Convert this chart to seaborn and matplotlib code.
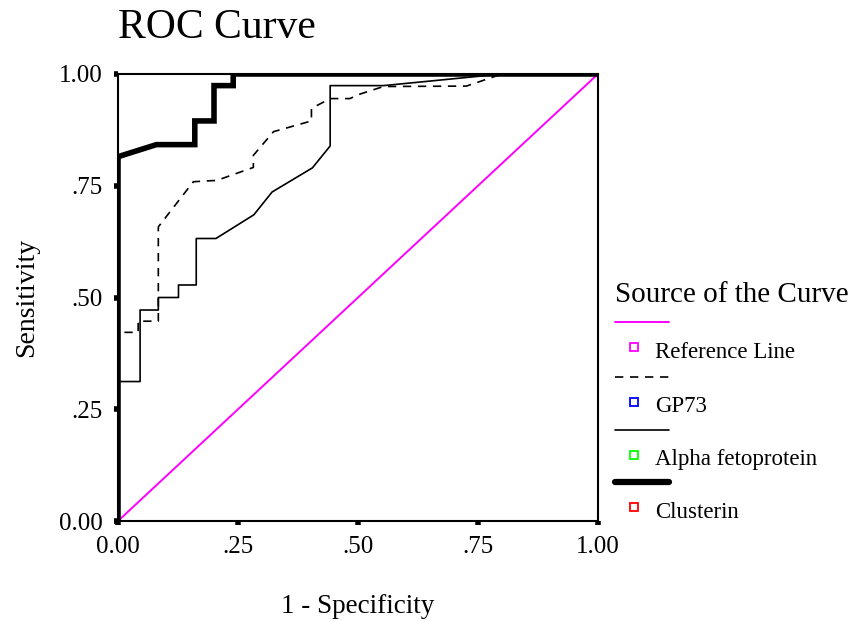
import matplotlib
matplotlib.use("Agg")
import matplotlib.pyplot as plt
import seaborn as sns
import pandas as pd
from matplotlib.lines import Line2D

# ---- data ----
clusterin_fpr = [0.0, 0.0, 0.08, 0.16, 0.16, 0.20, 0.20, 0.24, 0.24, 1.0]
clusterin_tpr = [0.0, 0.815, 0.842, 0.842, 0.895, 0.895, 0.974, 0.974, 1.0, 1.0]

afp_fpr = [0.0, 0.0, 0.046, 0.046, 0.084, 0.084, 0.126, 0.126, 0.163, 0.163, 0.204,
           0.283, 0.321, 0.405, 0.442, 0.442, 0.553, 0.80, 1.0]
afp_tpr = [0.0, 0.312, 0.312, 0.472, 0.472, 0.50, 0.50, 0.528, 0.528, 0.632, 0.632,
           0.685, 0.736, 0.790, 0.839, 0.974, 0.974, 1.0, 1.0]

gp73_fpr = [0.0, 0.0, 0.042, 0.042, 0.084, 0.084, 0.157, 0.206, 0.282, 0.282, 0.324,
            0.403, 0.403, 0.442, 0.483, 0.504, 0.553, 0.726, 0.80, 1.0]
gp73_tpr = [0.0, 0.422, 0.422, 0.447, 0.447, 0.658, 0.759, 0.762, 0.791, 0.818, 0.871,
            0.895, 0.923, 0.945, 0.945, 0.955, 0.972, 0.973, 1.0, 1.0]

ref_fpr = [0.0, 1.0]
ref_tpr = [0.0, 1.0]

legend_labels = ["Reference Line", "GP73", "Alpha fetoprotein", "Clusterin"]
legend_colors = ["#FF00FF", "#0000FF", "#00FF00", "#FF0000"]
tick_vals = [0.0, 0.25, 0.5, 0.75, 1.0]
tick_labels = ["0.00", ".25", ".50", ".75", "1.00"]

# ---- style ----
sns.set_style("white")
plt.rcParams["font.family"] = ["Liberation Serif", "DejaVu Serif"]
plt.rcParams["text.color"] = "black"
plt.rcParams["axes.labelcolor"] = "black"
plt.rcParams["xtick.color"] = "black"
plt.rcParams["ytick.color"] = "black"

fig = plt.figure(figsize=(8.54, 6.21), dpi=100)
W, H = 854, 621
ax = fig.add_axes([118 / W, 1 - 521 / H, 480 / W, 447 / H])

def df(x, y):
    return pd.DataFrame({"x": x, "y": y})

sns.lineplot(data=df(ref_fpr, ref_tpr), x="x", y="y", ax=ax, color="#FF00FF",
             lw=1.4, sort=False, estimator=None, zorder=2)
sns.lineplot(data=df(gp73_fpr, gp73_tpr), x="x", y="y", ax=ax, color="black",
             lw=1.2, sort=False, estimator=None, zorder=3, linestyle=(0, (5, 4)))
sns.lineplot(data=df(afp_fpr, afp_tpr), x="x", y="y", ax=ax, color="black",
             lw=1.2, sort=False, estimator=None, zorder=3)
sns.lineplot(data=df(clusterin_fpr, clusterin_tpr), x="x", y="y", ax=ax, color="black",
             lw=4, sort=False, estimator=None, zorder=4, solid_joinstyle="miter")

ax.set_xlim(0, 1)
ax.set_ylim(0, 1)
ax.set_xticks(tick_vals)
ax.set_xticklabels(tick_labels)
ax.set_yticks(tick_vals)
ax.set_yticklabels(tick_labels)
ax.tick_params(axis="both", direction="out", length=3, width=4, color="black",
               labelsize=18, pad=8, bottom=True, left=True)
for s in ax.spines.values():
    s.set_color("black")
    s.set_linewidth(1.5)
ax.set_xlabel("1 - Specificity", fontsize=19.5, labelpad=26)
ax.set_ylabel("Sensitivity", fontsize=20, labelpad=14)

fig.text(118 / W, 1 - 28 / H, "ROC Curve", fontsize=30, va="center", ha="left")

# ---- custom legend ----
fig.text(615 / W, 1 - 295 / H, "Source of the Curve", fontsize=21, va="center", ha="left")
line_styles = [
    dict(color="#FF00FF", lw=1.4, linestyle="-"),
    dict(color="black", lw=1.2, linestyle=(0, (5, 4))),
    dict(color="black", lw=1.2, linestyle="-"),
    dict(color="black", lw=4.5, linestyle="-"),
]
line_y = [322, 377, 430, 482]
for i, (lab, col) in enumerate(zip(legend_labels, legend_colors)):
    ly = 1 - line_y[i] / H
    fig.add_artist(Line2D([615 / W, 669 / W], [ly, ly], transform=fig.transFigure,
                          **line_styles[i]))
    my = 1 - (line_y[i] + 25) / H
    fig.add_artist(Line2D([634 / W], [my], transform=fig.transFigure, marker="s",
                          markersize=5.5, markerfacecolor="none", markeredgecolor=col,
                          markeredgewidth=1.3, linestyle="none"))
    fig.text(655 / W, 1 - (line_y[i] + 30) / H, lab, fontsize=16.5, va="center", ha="left")

fig.savefig("out.png", dpi=100)
